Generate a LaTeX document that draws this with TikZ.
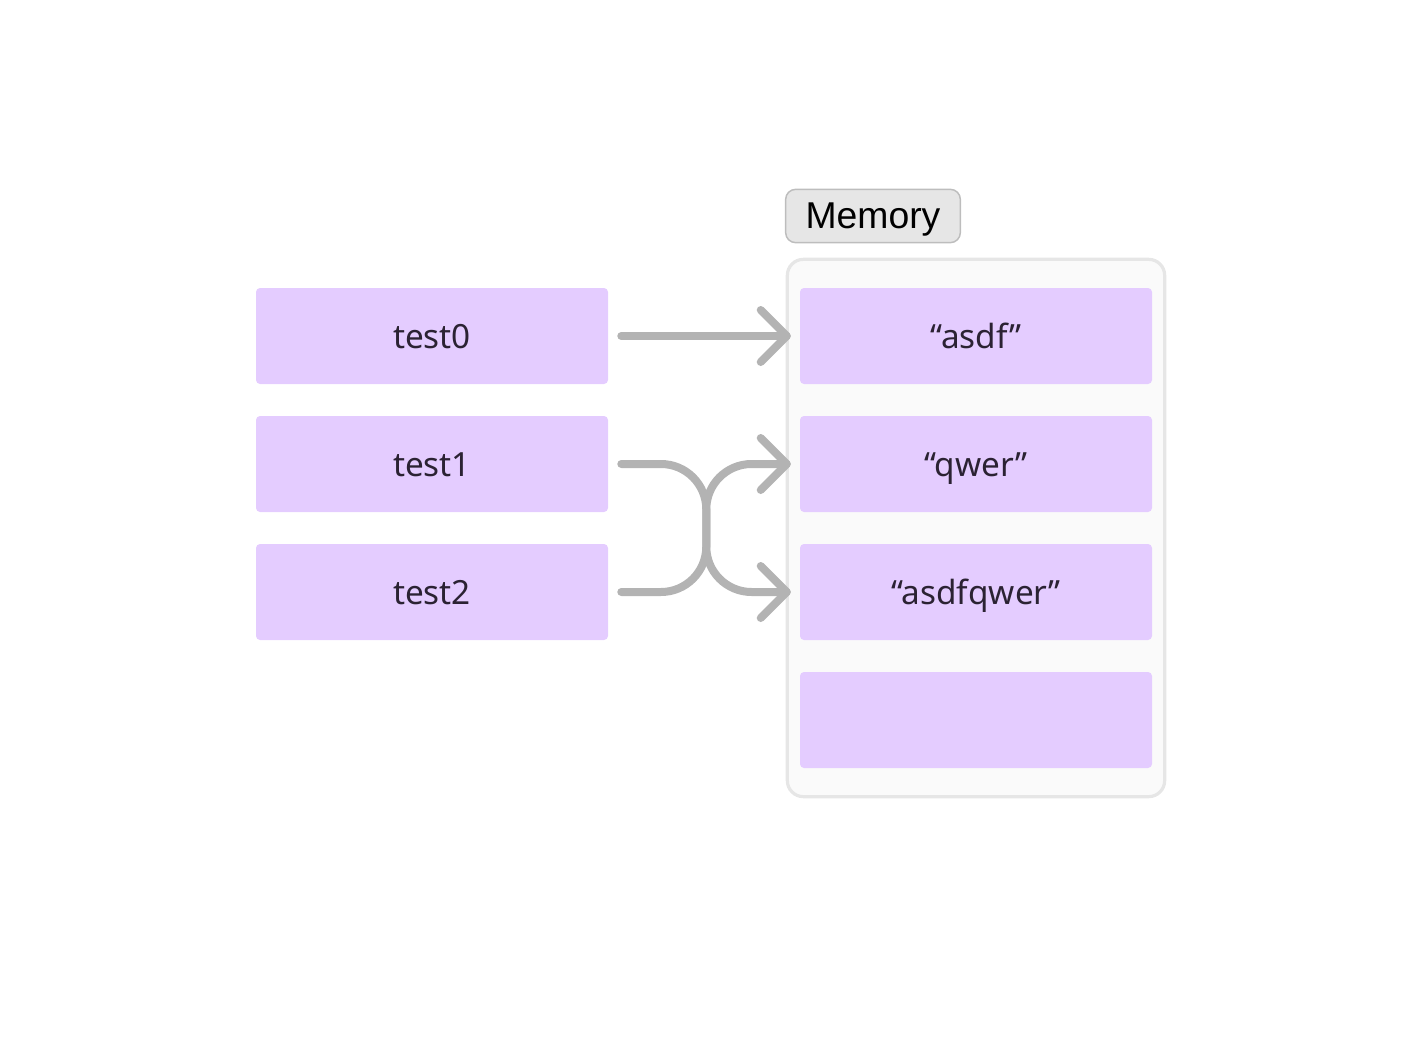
\documentclass[tikz,border=0pt]{standalone}
\usepackage{fontspec}
\setmainfont{Noto Sans}
\newfontfamily\memfont{Liberation Sans}
\usetikzlibrary{calc}
\definecolor{boxfill}{HTML}{E4CCFF}
\definecolor{boxtext}{HTML}{2B2233}
\definecolor{arrowgray}{HTML}{B3B3B3}
\definecolor{contfill}{HTML}{FAFAFA}
\definecolor{contborder}{HTML}{E6E6E6}
\definecolor{labfill}{HTML}{E6E6E6}
\definecolor{labborder}{HTML}{BDBDBD}
\begin{document}
\begin{tikzpicture}[x=0.75pt,y=-0.75pt,
  cell/.style={fill=boxfill,rounded corners=3pt,minimum width=264pt,minimum height=72pt,
    inner sep=0pt,text=boxtext,font=\fontsize{25}{28}\selectfont,
    text height=19.5pt,text depth=1.5pt},
  conn/.style={draw=arrowgray,line width=6pt,line cap=round,line join=round},
  chev/.style={draw=arrowgray,line width=6pt,line cap=round,line join=round}]
\useasboundingbox (0,0) rectangle (1424,1056);
% container
\node[draw=contborder,line width=2.4pt,fill=contfill,rounded corners=12pt,
  minimum width=283pt,minimum height=403pt,inner sep=0pt] (mem) at (976,528) {};
\node[draw=labborder,line width=1.1pt,fill=labfill,rounded corners=7.5pt,
  minimum width=131pt,minimum height=40pt,inner sep=0pt,
  font=\memfont\fontsize{28}{31}\selectfont,text=black,
  text height=21pt,text depth=2pt] (memlab) at (873,216) {Memory};
% left cells
\node[cell] (t0) at (432,336) {test0};
\node[cell] (t1) at (432,464) {test1};
\node[cell] (t2) at (432,592) {test2};
% right cells
\node[cell] (m0) at (976,336) {“asdf”};
\node[cell] (m1) at (976,464) {“qwer”};
\node[cell] (m2) at (976,592) {“asdfqwer”};
\node[cell] (m3) at (976,720) {};
% tips
\coordinate (p0) at ($(m0.west)+(-13,0)$);
\coordinate (p1) at ($(m1.west)+(-13,0)$);
\coordinate (p2) at ($(m2.west)+(-13,0)$);
% connectors
\draw[conn] ($(t0.east)+(13,0)$) -- (p0);
\draw[conn,rounded corners=34pt] ($(t1.east)+(13,0)$) -- ($(t1.east)+(98,0)$) -- ($(t2.east)+(98,0)$) -- (p2);
\draw[conn,rounded corners=34pt] ($(t2.east)+(13,0)$) -- ($(t2.east)+(98,0)$) -- ($(t1.east)+(98,0)$) -- (p1);
% arrowheads
\foreach \p in {p0,p1,p2}{
  \draw[chev] ($(\p)+(-26,-26)$) -- (\p) -- ($(\p)+(-26,26)$);
}
\end{tikzpicture}
\end{document}
